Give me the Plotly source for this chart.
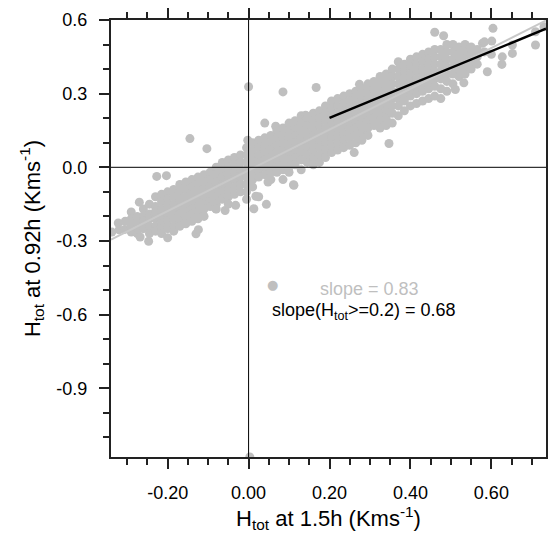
import plotly.graph_objects as go

# ---- data ----
# H_tot at 1.5h (x) and H_tot at 0.92h (y), Km/s
h15 = [
 -0.338, -0.322, -0.32, -0.306, -0.305, -0.29, -0.29, -0.29, -0.29, -0.275, -0.275, -0.275, -0.275,
 -0.27, -0.268, -0.26, -0.26, -0.26, -0.26, -0.247, -0.245, -0.245, -0.245, -0.245, -0.245,
 -0.23, -0.23, -0.23, -0.23, -0.23, -0.23, -0.227,
 -0.215, -0.215, -0.215, -0.215, -0.215, -0.215, -0.215,
 -0.203, -0.2, -0.2, -0.2, -0.2, -0.2, -0.2, -0.2,
 -0.185, -0.185, -0.185, -0.185, -0.185, -0.185, -0.185,
 -0.17, -0.17, -0.17, -0.17, -0.17, -0.17, -0.17,
 -0.155, -0.155, -0.155, -0.155, -0.155, -0.155, -0.155,
 -0.14, -0.14, -0.14, -0.14, -0.14, -0.14, -0.14,
 -0.13, -0.124, -0.145,
 -0.125, -0.125, -0.125, -0.125, -0.125, -0.125, -0.125,
 -0.11, -0.11, -0.11, -0.11, -0.11, -0.11, -0.11,
 -0.103, -0.081,
 -0.095, -0.095, -0.095, -0.095, -0.095, -0.095,
 -0.08, -0.08, -0.08, -0.08, -0.08, -0.08, -0.08,
 -0.065, -0.065, -0.065, -0.065, -0.065, -0.065, -0.058,
 -0.05, -0.05, -0.05, -0.05, -0.05, -0.05, -0.05,
 -0.035, -0.035, -0.035, -0.035, -0.035, -0.035, -0.032,
 -0.02, -0.02, -0.02, -0.02, -0.02, -0.02,
 -0.005, -0.005, -0.005, -0.005, -0.005, -0.005, -0.005, -0.005,
 -0.002, 0.0, 0.003,
 0.01, 0.01, 0.01, 0.01, 0.01, 0.01, 0.01, 0.013,
 0.018,
 0.025, 0.025, 0.025, 0.025, 0.025, 0.025, 0.025,
 0.04, 0.04, 0.04, 0.04, 0.04, 0.04, 0.04, 0.044,
 0.048,
 0.055, 0.055, 0.055, 0.055, 0.055, 0.055, 0.055,
 0.067,
 0.07, 0.07, 0.07, 0.07, 0.07, 0.07, 0.07,
 0.085, 0.085,
 0.085, 0.085, 0.085, 0.085, 0.085, 0.085, 0.085,
 0.1, 0.1, 0.1, 0.1, 0.1, 0.1, 0.1, 0.1,
 0.111, 0.112,
 0.115, 0.115, 0.115, 0.115, 0.115, 0.115, 0.115,
 0.124,
 0.13, 0.13, 0.13, 0.13, 0.13, 0.13, 0.13, 0.13,
 0.141,
 0.145, 0.145, 0.145, 0.145, 0.145, 0.145, 0.145,
 0.16, 0.16, 0.16, 0.16, 0.16, 0.16, 0.16, 0.16,
 0.167,
 0.175, 0.175, 0.175, 0.175, 0.175, 0.175, 0.175, 0.175,
 0.19, 0.19, 0.19, 0.19, 0.19, 0.19, 0.19, 0.19,
 0.205, 0.205, 0.205, 0.205, 0.205, 0.205, 0.205, 0.205,
 0.22, 0.22, 0.22, 0.22, 0.22, 0.22, 0.22, 0.22,
 0.235, 0.235, 0.235, 0.235, 0.235, 0.235, 0.235, 0.235,
 0.25, 0.25, 0.25, 0.25, 0.25, 0.25, 0.25, 0.25,
 0.261,
 0.265, 0.265, 0.265, 0.265, 0.265, 0.265, 0.265, 0.265,
 0.274,
 0.28, 0.28, 0.28, 0.28, 0.28, 0.28, 0.28, 0.28,
 0.295, 0.295, 0.295, 0.295, 0.295, 0.295, 0.295, 0.295,
 0.31, 0.31, 0.31, 0.31, 0.31, 0.31, 0.31,
 0.325, 0.325, 0.325, 0.325, 0.325, 0.325, 0.325, 0.325,
 0.34, 0.34, 0.34, 0.34, 0.34, 0.34, 0.34, 0.34,
 0.347,
 0.355, 0.355, 0.355, 0.355, 0.355, 0.355, 0.355, 0.355,
 0.37, 0.37, 0.37, 0.37, 0.37, 0.37, 0.37, 0.37,
 0.385, 0.385, 0.385, 0.385, 0.385, 0.385, 0.385,
 0.4, 0.4, 0.4, 0.4, 0.4, 0.4, 0.4,
 0.415, 0.415, 0.415, 0.415, 0.415, 0.415, 0.415,
 0.43, 0.43, 0.43, 0.43, 0.43, 0.43, 0.43,
 0.445, 0.445, 0.445, 0.445, 0.445, 0.445, 0.445,
 0.46, 0.46, 0.46, 0.46, 0.46, 0.46, 0.46, 0.46,
 0.475, 0.475, 0.475, 0.475, 0.475, 0.475, 0.475,
 0.482,
 0.49, 0.49, 0.49, 0.49, 0.49, 0.49, 0.49,
 0.505, 0.505, 0.505, 0.505, 0.505, 0.505,
 0.511,
 0.52, 0.52, 0.52, 0.52, 0.52,
 0.532,
 0.535, 0.535, 0.535, 0.535, 0.535,
 0.55, 0.55, 0.55, 0.55,
 0.565, 0.565, 0.565,
 0.578, 0.583, 0.583, 0.59, 0.601, 0.6, 0.604,
 0.626, 0.627, 0.652, 0.652, 0.709, 0.709, 0.73,
]
h092 = [
 -0.264, -0.227, -0.255, -0.253, -0.22, -0.182, -0.21, -0.264, -0.24, -0.2, -0.23, -0.27, -0.25,
 -0.142, -0.284, -0.17, -0.2, -0.22, -0.25, -0.301, -0.15, -0.19, -0.21, -0.24, -0.27,
 -0.12, -0.16, -0.18, -0.21, -0.24, -0.26, -0.037,
 -0.11, -0.14, -0.17, -0.2, -0.23, -0.25, -0.27,
 -0.034, -0.1, -0.13, -0.16, -0.19, -0.22, -0.25, -0.287,
 -0.09, -0.12, -0.15, -0.18, -0.21, -0.24, -0.26,
 -0.07, -0.1, -0.13, -0.16, -0.19, -0.22, -0.24,
 -0.06, -0.09, -0.12, -0.15, -0.18, -0.2, -0.23,
 -0.05, -0.08, -0.11, -0.14, -0.17, -0.19, -0.22,
 -0.271, -0.254, 0.117,
 -0.04, -0.07, -0.1, -0.13, -0.16, -0.18, -0.21,
 -0.03, -0.06, -0.09, -0.12, -0.15, -0.17, -0.2,
 0.076, -0.169,
 -0.02, -0.05, -0.08, -0.11, -0.14, -0.16,
 0.0, -0.03, -0.06, -0.09, -0.12, -0.15, -0.17,
 0.02, -0.01, -0.04, -0.07, -0.1, -0.13, -0.176,
 0.03, 0.0, -0.03, -0.06, -0.09, -0.12, -0.15,
 0.04, 0.01, -0.02, -0.05, -0.08, -0.11, -0.155,
 0.05, 0.02, -0.01, -0.04, -0.07, -0.1,
 0.08, 0.05, 0.02, -0.01, -0.04, -0.07, -0.1, -0.13,
 0.11, 0.328, -1.18,
 0.1, 0.07, 0.04, 0.01, -0.02, -0.05, -0.08, -0.169,
 -0.118,
 0.11, 0.08, 0.05, 0.02, -0.01, -0.04, -0.12,
 0.18, 0.12, 0.09, 0.06, 0.03, 0.0, -0.03, -0.151,
 -0.06,
 0.13, 0.1, 0.07, 0.04, 0.01, -0.02, -0.05,
 0.167,
 0.15, 0.12, 0.09, 0.06, 0.03, 0.0, -0.02,
 -0.05, 0.307,
 0.16, 0.13, 0.1, 0.07, 0.04, 0.01, -0.01,
 0.18, 0.15, 0.12, 0.09, 0.06, 0.03, 0.0, -0.02,
 -0.071, -0.073,
 0.19, 0.16, 0.13, 0.1, 0.07, 0.04, 0.01,
 0.171,
 0.21, 0.18, 0.15, 0.12, 0.09, 0.06, 0.03, -0.01,
 0.212,
 0.2, 0.17, 0.14, 0.11, 0.08, 0.05, 0.02,
 0.22, 0.19, 0.16, 0.13, 0.1, 0.07, 0.04, 0.01,
 0.325,
 0.23, 0.2, 0.17, 0.14, 0.11, 0.08, 0.05, 0.02,
 0.25, 0.22, 0.19, 0.16, 0.13, 0.1, 0.07, 0.04,
 0.27, 0.24, 0.21, 0.18, 0.15, 0.12, 0.09, 0.06,
 0.28, 0.25, 0.22, 0.19, 0.16, 0.13, 0.1, 0.07,
 0.29, 0.26, 0.23, 0.2, 0.17, 0.14, 0.11, 0.08,
 0.3, 0.27, 0.24, 0.21, 0.18, 0.15, 0.12, 0.09,
 0.06,
 0.31, 0.28, 0.25, 0.22, 0.19, 0.16, 0.13, 0.1,
 0.338,
 0.32, 0.29, 0.26, 0.23, 0.2, 0.17, 0.14, 0.11,
 0.34, 0.31, 0.28, 0.25, 0.22, 0.19, 0.16, 0.13,
 0.35, 0.32, 0.29, 0.26, 0.23, 0.2, 0.17,
 0.37, 0.34, 0.31, 0.28, 0.25, 0.22, 0.19, 0.16,
 0.38, 0.35, 0.32, 0.29, 0.26, 0.23, 0.2, 0.17,
 0.097,
 0.4, 0.37, 0.34, 0.31, 0.28, 0.25, 0.22, 0.18,
 0.43, 0.4, 0.37, 0.34, 0.31, 0.28, 0.25, 0.21,
 0.42, 0.39, 0.36, 0.33, 0.3, 0.27, 0.23,
 0.44, 0.41, 0.38, 0.35, 0.32, 0.29, 0.25,
 0.45, 0.42, 0.39, 0.36, 0.33, 0.3, 0.26,
 0.46, 0.43, 0.4, 0.37, 0.34, 0.31, 0.27,
 0.47, 0.44, 0.41, 0.38, 0.35, 0.32, 0.28,
 0.55, 0.48, 0.45, 0.42, 0.39, 0.36, 0.33, 0.29,
 0.48, 0.45, 0.42, 0.39, 0.36, 0.32, 0.28,
 0.536,
 0.5, 0.47, 0.44, 0.41, 0.38, 0.35, 0.31,
 0.5, 0.47, 0.44, 0.41, 0.38, 0.34,
 0.317,
 0.49, 0.46, 0.43, 0.4, 0.37,
 0.344,
 0.5, 0.47, 0.44, 0.41, 0.38,
 0.49, 0.46, 0.43, 0.4,
 0.48, 0.45, 0.42,
 0.505, 0.511, 0.47, 0.389, 0.514, 0.46, 0.566,
 0.419, 0.45, 0.464, 0.498, 0.498, 0.552, 0.573,
]

# regression fits (slope, intercept) and the x range each fit covers
fit_all_slope, fit_all_icpt = 0.83, -0.012
fit_hi_slope, fit_hi_icpt = 0.68, 0.065
fit_hi_xmin = 0.2

x_range = [-0.34, 0.735]
y_range = [-1.18, 0.6]
x_ticks = [-0.2, 0.0, 0.2, 0.4, 0.6]
x_tick_labels = ["-0.20", "0.00", "0.20", "0.40", "0.60"]
y_ticks = [-0.9, -0.6, -0.3, 0.0, 0.3, 0.6]
y_tick_labels = ["-0.9", "-0.6", "-0.3", "0.0", "0.3", "0.6"]

GRAY = "#bfbfbf"
FONT = "Liberation Sans, Arial, Helvetica, sans-serif"

fig = go.Figure()
fig.add_trace(go.Scatter(x=h15, y=h092, mode="markers",
                         marker=dict(color=GRAY, size=9, line=dict(width=0)),
                         hoverinfo="skip", cliponaxis=True))

# gray fit over all points (spanning the axis range)
xa = [x_range[0], x_range[1]]
fig.add_trace(go.Scatter(x=xa, y=[fit_all_slope * v + fit_all_icpt for v in xa],
                         mode="lines", line=dict(color="#c8c8c8", width=2)))
# black fit for H_tot >= 0.2
xb = [fit_hi_xmin, x_range[1]]
fig.add_trace(go.Scatter(x=xb, y=[fit_hi_slope * v + fit_hi_icpt for v in xb],
                         mode="lines", line=dict(color="black", width=2.5)))

# zero reference lines drawn above points
fig.add_shape(type="line", xref="x", yref="paper", x0=0, x1=0, y0=0, y1=1,
              line=dict(color="black", width=1), layer="above")
fig.add_shape(type="line", xref="paper", yref="y", x0=0, x1=1, y0=0, y1=0,
              line=dict(color="black", width=1), layer="above")

fig.add_annotation(xref="paper", yref="paper", x=0.371, y=0.394, text="●",
                   xanchor="center", yanchor="middle",
                   showarrow=False, font=dict(color=GRAY, size=13, family="DejaVu Sans"))
fig.add_annotation(xref="paper", yref="paper", x=0.595, y=0.384, text="slope = 0.83",
                   xanchor="center", yanchor="middle",
                   showarrow=False, font=dict(color=GRAY, size=18, family=FONT))
fig.add_annotation(xref="paper", yref="paper", x=0.366, y=0.332, xanchor="left",
                   yanchor="middle",
                   text="slope(H<sub>tot</sub>>=0.2) = 0.68",
                   showarrow=False, font=dict(color="black", size=18, family=FONT))

axis_common = dict(showgrid=False, zeroline=False, showline=True, linecolor="#222222",
                   linewidth=2, ticks="outside", ticklen=10, tickwidth=1.5,
                   tickcolor="#222222", tickfont=dict(size=18, family=FONT, color="black"))

fig.update_xaxes(range=x_range, tickvals=x_ticks, ticktext=x_tick_labels, mirror="ticks",
                 minor=dict(dtick=0.05, tick0=0, ticklen=6, tickwidth=1.5,
                            tickcolor="#222222", ticks="outside"),
                 title=dict(text="H<sub>tot</sub> at 1.5h (Kms<sup>-1</sup>)",
                            font=dict(size=22, family=FONT, color="black"), standoff=8),
                 ticklabelstandoff=8, **axis_common)
fig.update_yaxes(range=y_range, tickvals=y_ticks, ticktext=y_tick_labels, mirror=True,
                 minor=dict(dtick=0.1, tick0=0, ticklen=6, tickwidth=1.5,
                            tickcolor="#222222", ticks="outside"),
                 title=dict(text="H<sub>tot</sub> at 0.92h (Kms<sup>-1</sup>)",
                            font=dict(size=22, family=FONT, color="black"), standoff=10),
                 ticklabelstandoff=8, **axis_common)

fig.update_layout(width=549, height=536, margin=dict(l=111, r=1, t=20, b=79),
                  plot_bgcolor="white", paper_bgcolor="white", showlegend=False,
                  font=dict(family=FONT))

fig.write_html("out.html")
